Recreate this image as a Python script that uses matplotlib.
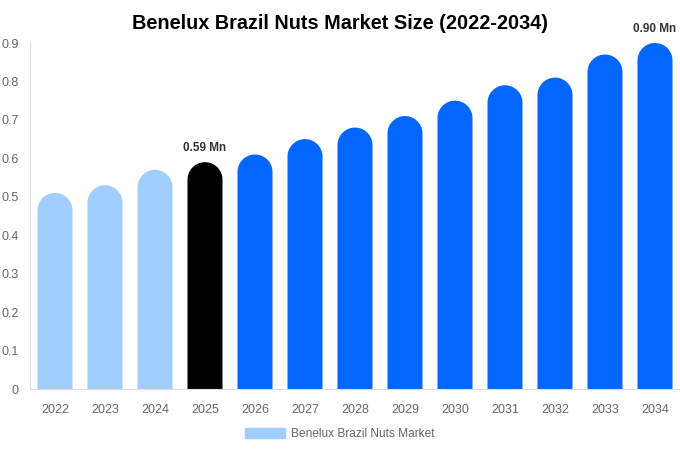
import numpy as np
import matplotlib
matplotlib.use("Agg")
import matplotlib.pyplot as plt
from matplotlib.patches import Polygon, Patch

plt.rcParams['font.family'] = ['Liberation Sans', 'DejaVu Sans']

years = ['2022', '2023', '2024', '2025', '2026', '2027', '2028',
         '2029', '2030', '2031', '2032', '2033', '2034']
values = [0.51, 0.53, 0.57, 0.59, 0.61, 0.65, 0.68, 0.71, 0.75, 0.79, 0.81, 0.87, 0.90]
colors = ['#a0cfff'] * 3 + ['#000000'] + ['#0066ff'] * 9
labels = {3: '0.59 Mn', 12: '0.90 Mn'}

fig = plt.figure(figsize=(6.8, 4.5), dpi=100)
ax = fig.add_axes([30 / 680, 61 / 450, 650 / 680, 346 / 450])
ax.set_xlim(-0.5, len(years) - 0.5)
ax.set_ylim(0, 0.9)

# rounded top: semicircle in pixels -> half-ellipse in data units
bar_w = 0.7
axes_px = ax.get_position().transformed(fig.transFigure)
px_per_x = axes_px.width / len(years)
px_per_y = axes_px.height / 0.9
r_x = bar_w / 2
r_y = r_x * px_per_x / px_per_y
theta = np.linspace(0, np.pi, 60)

for i, v in enumerate(values):
    top = v - r_y
    xs = np.concatenate([[i - r_x], i + r_x * np.cos(theta[::-1]), [i + r_x]])
    ys = np.concatenate([[0], top + r_y * np.sin(theta[::-1]), [0]])
    ax.add_patch(Polygon(np.column_stack([xs, ys]), closed=True,
                         facecolor=colors[i], edgecolor='none'))
    if i in labels:
        ax.text(i, v + 0.02, labels[i], ha='center', va='bottom',
                fontsize=8.5, fontweight='bold', color='#333333')

ax.set_xticks(range(len(years)))
ax.set_xticklabels(years)
ax.set_yticks([i / 10 for i in range(10)])
ax.set_yticklabels(['0'] + [f'{i / 10:.1f}' for i in range(1, 10)])
ax.tick_params(length=0, labelsize=9, colors='#666666')
ax.tick_params(axis='x', pad=10.5)
ax.tick_params(axis='y', pad=8)

for s in ['top', 'right']:
    ax.spines[s].set_visible(False)
for s in ['left', 'bottom']:
    ax.spines[s].set_color('#dddddd')

fig.suptitle('Benelux Brazil Nuts Market Size (2022-2034)', fontsize=14.3,
             fontweight='bold', x=0.5, y=0.968)

fig.legend(handles=[Patch(color='#a0cfff', label='Benelux Brazil Nuts Market')],
           loc='center', bbox_to_anchor=(0.5, 1 - 434 / 450), frameon=False,
           fontsize=8.6, handlelength=3.3, handleheight=0.9, handletextpad=0.5,
           labelcolor='#666666')

fig.savefig('out.png', dpi=100)
